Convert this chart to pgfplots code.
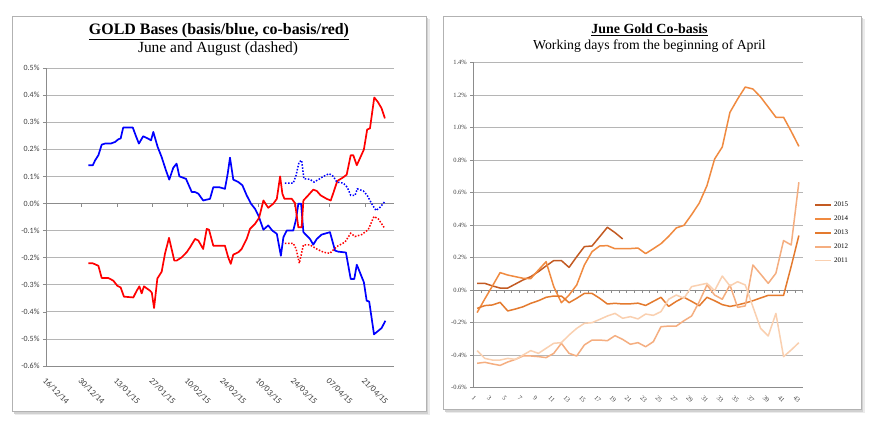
\documentclass[border=0pt]{standalone}
\usepackage{fontspec}
\setmainfont{Liberation Serif}
\newfontfamily\calib{Carlito}
\usepackage{pgfplots}
\pgfplotsset{compat=1.18}
\definecolor{gridc}{HTML}{B5B5B5}
\definecolor{axc}{HTML}{8C8C8C}
\definecolor{cA}{HTML}{C35A22}
\definecolor{cB}{HTML}{F08A40}
\definecolor{cC}{HTML}{E47A2E}
\definecolor{cD}{HTML}{F5AE80}
\definecolor{cE}{HTML}{FAD0B0}
\begin{document}
\begin{tikzpicture}
\useasboundingbox (0bp,0bp) rectangle (870bp,427bp);
% panels with shadows
\fill[black!8] (15bp,12bp) rectangle (430bp,408bp);
\fill[black!18] (14bp,13bp) rectangle (428bp,409bp);
\draw[black!30, line width=0.8bp, fill=white] (12bp,16bp) rectangle (426bp,411bp);
\fill[black!8] (446bp,14bp) rectangle (865bp,408bp);
\fill[black!18] (445bp,15bp) rectangle (863bp,409bp);
\draw[black!30, line width=0.8bp, fill=white] (443bp,18bp) rectangle (861bp,411bp);
% titles
\node[anchor=base, font=\fontsize{16}{19}\selectfont\bfseries] at (219bp,392.5bp) {\underline{GOLD Bases (basis/blue, co-basis/red)}};
\node[anchor=base, font=\fontsize{15.5}{18}\selectfont] at (218bp,374.5bp) {June and August (dashed)};
\node[anchor=base, font=\fontsize{14}{17}\selectfont\bfseries] at (649.5bp,393bp) {\underline{June Gold Co-basis}};
\node[anchor=base, font=\fontsize{13.8}{17}\selectfont] at (649.5bp,377.5bp) {Working days from the beginning of April};

% ---------------- left chart ----------------
\begin{axis}[at={(46bp,61bp)}, anchor=south west, scale only axis,
  width=348bp, height=298bp,
  xmin=0, xmax=137.5, ymin=-0.6, ymax=0.5,
  axis x line*=bottom, axis y line*=left,
  axis line style={axc, line width=0.7bp},
  ytick={-0.6,-0.5,-0.4,-0.3,-0.2,-0.1,0,0.1,0.2,0.3,0.4,0.5},
  yticklabel={\pgfmathprintnumber[fixed,fixed zerofill,precision=1]{\tick}\%},
  /pgf/number format/assume math mode=true,
  ymajorgrids, grid style={gridc, line width=0.7bp},
  xtick={0,14,28,42,56,70,84,98,112,126},
  xticklabels={16/12/14,30/12/14,13/01/15,27/01/15,10/02/15,24/02/15,10/03/15,24/03/15,07/04/15,21/04/15},
  x tick style={draw=none},
  y tick style={axc, line width=0.6bp},
  tick align=outside, major tick length=3bp,
  xticklabel style={rotate=-45, anchor=north west, font=\calib\fontsize{8.7}{9}\selectfont, text=black!75, inner sep=1bp, yshift=-4bp, xshift=5bp},
  yticklabel style={font=\calib\fontsize{8}{9}\selectfont, text=black!75},
]
\draw[axc, line width=0.7bp] (axis cs:0,0) -- (axis cs:137.5,0);
\pgfplotsinvokeforeach{0,14,28,42,56,70,84,98,112,126}{\draw[axc, line width=0.6bp] (axis cs:#1,0) -- ([yshift=-3.5bp]axis cs:#1,0);}
% blue: June basis
\addplot[blue, line width=1.7bp, line join=round] coordinates {
(16.7,0.141)(18.5,0.141)(19.4,0.159)(20.7,0.178)(22.0,0.217)(23.3,0.221)(25.6,0.221)(27.3,0.227)(28.6,0.237)(29.5,0.240)(30.5,0.280)(34.3,0.280)(35.4,0.252)(36.7,0.221)(38.4,0.248)(40.2,0.240)(41.5,0.233)(42.4,0.264)(44.1,0.209)(45.7,0.171)(47.4,0.122)(48.7,0.088)(50.3,0.132)(51.6,0.147)(52.7,0.100)(55.3,0.091)(57.6,0.042)(58.9,0.042)(60.2,0.036)(62.1,0.011)(64.8,0.017)(66.1,0.060)(68.4,0.060)(70.7,0.054)(71.8,0.110)(72.7,0.169)(74.0,0.088)(76.0,0.079)(77.6,0.067)(79.3,0.030)(81.0,-0.001)(82.6,-0.020)(83.9,-0.044)(85.9,-0.097)(87.8,-0.081)(89.4,-0.100)(91.2,-0.112)(92.8,-0.193)(93.8,-0.125)(95.1,-0.100)(97.7,-0.100)(98.8,-0.059)(99.7,-0.001)(100.8,-0.001)(101.7,-0.106)(104.3,-0.131)(105.6,-0.152)(107.0,-0.131)(108.9,-0.115)(112.2,-0.106)(114.2,-0.174)(115.5,-0.178)(118.5,-0.181)(120.4,-0.279)(121.8,-0.279)(122.8,-0.226)(125.6,-0.291)(126.7,-0.359)(127.7,-0.362)(129.6,-0.483)(132.6,-0.460)(134.1,-0.433)};
% red: June co-basis
\addplot[red, line width=1.7bp, line join=round] coordinates {
(16.7,-0.221)(18.5,-0.221)(20.7,-0.230)(22.0,-0.275)(24.6,-0.275)(26.6,-0.285)(28.2,-0.304)(29.5,-0.310)(30.8,-0.344)(34.5,-0.347)(35.8,-0.323)(36.9,-0.306)(37.8,-0.332)(38.7,-0.306)(41.1,-0.322)(41.8,-0.329)(42.7,-0.386)(44.0,-0.277)(45.7,-0.252)(47.0,-0.186)(48.6,-0.127)(50.7,-0.211)(51.6,-0.211)(53.6,-0.199)(55.6,-0.180)(56.9,-0.162)(58.9,-0.131)(60.2,-0.137)(62.1,-0.168)(63.5,-0.094)(64.4,-0.097)(66.1,-0.156)(70.7,-0.156)(72.0,-0.199)(73.0,-0.223)(74.0,-0.189)(76.0,-0.180)(77.3,-0.168)(79.3,-0.131)(80.6,-0.094)(82.6,-0.075)(84.2,-0.053)(85.9,0.011)(87.8,-0.016)(89.8,-0.001)(91.2,0.017)(92.5,0.100)(93.4,0.036)(94.2,0.017)(97.1,0.017)(98.4,0.001)(99.7,-0.088)(101.0,-0.088)(101.7,0.011)(103.6,0.030)(105.6,0.051)(107.0,0.046)(108.5,0.030)(110.9,0.017)(112.5,0.011)(113.5,0.038)(115.1,0.083)(117.2,0.095)(118.8,0.106)(120.4,0.178)(121.4,0.178)(122.8,0.141)(125.6,0.199)(126.9,0.273)(128.0,0.277)(129.7,0.391)(131.1,0.375)(132.6,0.351)(133.9,0.314)};
% blue dotted: August basis
\addplot[blue, line width=1.5bp, dash pattern=on 1.5bp off 1.6bp] coordinates {
(94.4,0.075)(97.7,0.075)(98.8,0.104)(100.0,0.153)(101.0,0.159)(101.9,0.091)(104.3,0.089)(105.9,0.079)(107.6,0.088)(109.6,0.100)(111.9,0.110)(113.5,0.100)(114.9,0.079)(117.5,0.075)(119.0,0.060)(120.4,0.030)(122.1,0.030)(123.0,0.054)(125.4,0.046)(126.9,0.030)(128.7,-0.001)(130.4,-0.026)(132.0,-0.014)(133.7,0.005)};
% red dotted: August co-basis
\addplot[red, line width=1.5bp, dash pattern=on 1.5bp off 1.6bp] coordinates {
(94.4,-0.147)(97.7,-0.147)(98.8,-0.167)(100.1,-0.221)(101.7,-0.153)(104.3,-0.153)(107.0,-0.168)(109.6,-0.180)(112.2,-0.184)(114.9,-0.159)(118.1,-0.143)(120.4,-0.110)(122.1,-0.122)(124.7,-0.115)(127.3,-0.097)(129.6,-0.048)(131.3,-0.057)(133.7,-0.090)};
\end{axis}

% ---------------- right chart ----------------
\begin{axis}[at={(473.3bp,39.5bp)}, anchor=south west, scale only axis,
  width=329.4bp, height=325bp,
  xmin=0.5, xmax=43.5, ymin=-0.6, ymax=1.4,
  axis x line*=bottom, axis y line*=left,
  axis line style={axc, line width=0.7bp},
  ytick={-0.6,-0.4,-0.2,0,0.2,0.4,0.6,0.8,1.0,1.2,1.4},
  yticklabel={\pgfmathprintnumber[fixed,fixed zerofill,precision=1]{\tick}\%},
  /pgf/number format/assume math mode=true,
  ymajorgrids, grid style={gridc, line width=0.7bp},
  xtick={1,3,...,43},
  x tick style={draw=none},
  y tick style={axc, line width=0.6bp},
  tick align=outside, major tick length=3bp,
  xticklabel style={rotate=-45, anchor=north west, font=\fontsize{6.5}{7}\selectfont, text=black!75, inner sep=1bp, yshift=-4bp},
  yticklabel style={font=\fontsize{6.5}{7}\selectfont, text=black!75},
  legend style={at={(1.035,0.578)}, anchor=north west, draw=none, fill=none, font=\fontsize{7}{8}\selectfont, row sep=3.8bp, inner sep=0pt, cells={anchor=west}},
  legend image code/.code={\draw[#1, line width=1.7bp] (0bp,0bp) -- (16bp,0bp);},
]
\draw[axc, line width=0.7bp] (axis cs:0.5,0) -- (axis cs:43.5,0);
\pgfplotsinvokeforeach{0.5,1.5,...,43.5}{\draw[axc, line width=0.5bp] (axis cs:#1,0) -- ([yshift=-2.8bp]axis cs:#1,0);}
\addplot[cA, line width=1.5bp, line join=round] coordinates {
(1,0.041)(2,0.041)(3,0.025)(4,0.012)(5,0.012)(6,0.037)(7,0.062)(8,0.082)(9,0.113)(10,0.148)(11,0.181)(12,0.181)(13,0.139)(14,0.205)(15,0.267)(16,0.271)(17,0.328)(18,0.386)(19,0.353)(20,0.314)};
\addlegendentry{2015}
\addplot[cB, line width=1.5bp, line join=round] coordinates {
(1,-0.139)(2,-0.055)(3,0.025)(4,0.107)(5,0.092)(6,0.082)(7,0.072)(8,0.070)(9,0.123)(10,0.174)(11,0.021)(12,-0.078)(13,-0.031)(14,0.031)(15,0.154)(16,0.236)(17,0.271)(18,0.273)(19,0.254)(20,0.254)(21,0.255)(22,0.258)(23,0.224)(24,0.254)(25,0.285)(26,0.330)(27,0.382)(28,0.398)(29,0.464)(30,0.535)(31,0.642)(32,0.806)(33,0.880)(34,1.093)(35,1.175)(36,1.249)(37,1.237)(38,1.188)(39,1.126)(40,1.063)(41,1.063)(42,0.976)(43,0.884)};
\addlegendentry{2014}
\addplot[cC, line width=1.5bp, line join=round] coordinates {
(1,-0.113)(2,-0.096)(3,-0.092)(4,-0.076)(5,-0.129)(6,-0.117)(7,-0.103)(8,-0.082)(9,-0.066)(10,-0.045)(11,-0.037)(12,-0.037)(13,-0.078)(14,-0.051)(15,-0.021)(16,-0.021)(17,-0.051)(18,-0.086)(19,-0.082)(20,-0.086)(21,-0.085)(22,-0.081)(23,-0.095)(24,-0.070)(25,-0.045)(26,-0.101)(27,-0.070)(28,-0.045)(29,-0.070)(30,-0.097)(31,-0.045)(32,-0.066)(33,-0.090)(34,-0.101)(35,-0.092)(36,-0.080)(37,-0.066)(38,-0.049)(39,-0.033)(40,-0.033)(41,-0.033)(42,0.146)(43,0.335)};
\addlegendentry{2013}
\addplot[cD, line width=1.5bp, line join=round] coordinates {
(1,-0.451)(2,-0.445)(3,-0.455)(4,-0.464)(5,-0.443)(6,-0.427)(7,-0.406)(8,-0.406)(9,-0.410)(10,-0.416)(11,-0.390)(12,-0.328)(13,-0.390)(14,-0.406)(15,-0.338)(16,-0.308)(17,-0.308)(18,-0.312)(19,-0.281)(20,-0.304)(21,-0.334)(22,-0.324)(23,-0.349)(24,-0.318)(25,-0.226)(26,-0.222)(27,-0.222)(28,-0.189)(29,-0.160)(30,-0.072)(31,0.031)(32,-0.031)(33,-0.057)(34,0.031)(35,-0.107)(36,-0.098)(37,0.154)(38,0.098)(39,0.041)(40,0.103)(41,0.304)(42,0.277)(43,0.663)};
\addlegendentry{2012}
\addplot[cE, line width=1.5bp, line join=round] coordinates {
(1,-0.373)(2,-0.421)(3,-0.431)(4,-0.431)(5,-0.421)(6,-0.427)(7,-0.400)(8,-0.373)(9,-0.390)(10,-0.359)(11,-0.328)(12,-0.324)(13,-0.277)(14,-0.236)(15,-0.205)(16,-0.201)(17,-0.181)(18,-0.160)(19,-0.144)(20,-0.174)(21,-0.164)(22,-0.178)(23,-0.148)(24,-0.156)(25,-0.133)(26,-0.057)(27,-0.031)(28,-0.051)(29,0.021)(30,0.031)(31,0.041)(32,-0.004)(33,0.086)(34,0.025)(35,0.051)(36,0.031)(37,-0.103)(38,-0.236)(39,-0.283)(40,-0.144)(41,-0.410)(42,-0.369)(43,-0.324)};
\addlegendentry{2011}
\end{axis}
\end{tikzpicture}
\end{document}
